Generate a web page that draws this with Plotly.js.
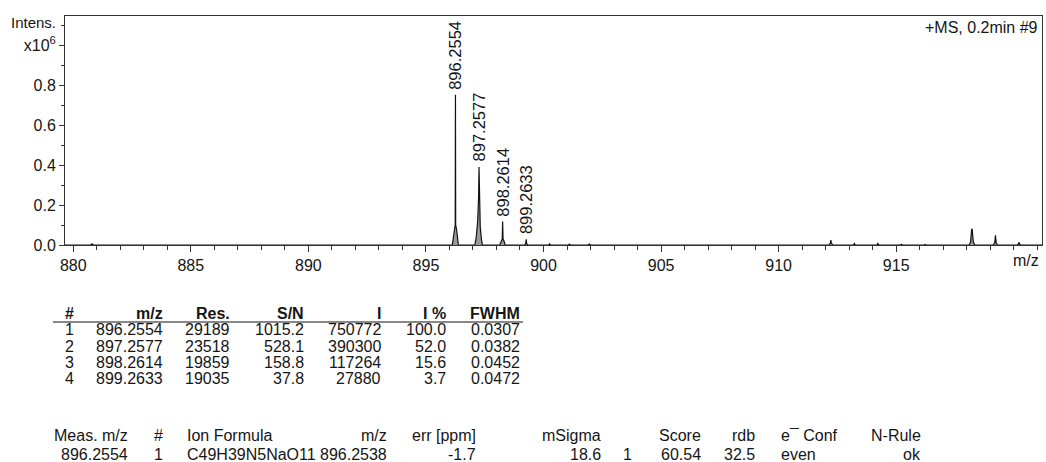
<!DOCTYPE html>
<html>
<head>
<meta charset="utf-8">
<script src="https://cdn.plot.ly/plotly-3.0.1.min.js"></script>
<style>
  html, body { margin: 0; padding: 0; background: #fff; }
  #chart { width: 1046px; height: 462px; }
</style>
</head>
<body>
<div id="chart"></div>
<script>
// ---------- DATA ----------
// profile spectrum (m/z, intensity in 10^6)
const specMz = [879.65, 880.75, 880.80, 880.85,
  896.12, 896.17, 896.21, 896.245, 896.2554, 896.265, 896.30, 896.34, 896.38,
  897.08, 897.14, 897.20, 897.24, 897.2577, 897.275, 897.31, 897.36, 897.40,
  898.14, 898.20, 898.245, 898.2614, 898.28, 898.32, 898.37,
  899.20, 899.245, 899.2633, 899.28, 899.33,
  900.22, 900.26, 900.30,
  901.05, 901.10, 901.15,
  901.90, 901.95, 902.00,
  912.14, 912.20, 912.22, 912.24, 912.30,
  913.18, 913.22, 913.26,
  914.18, 914.22, 914.26,
  915.18, 915.22, 915.26,
  916.18, 916.22, 916.26,
  918.10, 918.16, 918.21, 918.23, 918.28, 918.34,
  919.13, 919.19, 919.22, 919.25, 919.31,
  920.16, 920.22, 920.28,
  921.30];
const specInt = [0, 0, 0.006, 0,
  0, 0.04, 0.08, 0.10, 0.751, 0.10, 0.08, 0.04, 0,
  0, 0.04, 0.12, 0.24, 0.390, 0.22, 0.09, 0.03, 0,
  0, 0.02, 0.03, 0.117, 0.03, 0.02, 0,
  0, 0.008, 0.028, 0.008, 0,
  0, 0.006, 0,
  0, 0.004, 0,
  0, 0.005, 0,
  0, 0.01, 0.025, 0.01, 0,
  0, 0.008, 0,
  0, 0.008, 0,
  0, 0.004, 0,
  0, 0.003, 0,
  0, 0.015, 0.08, 0.078, 0.015, 0,
  0, 0.012, 0.048, 0.012, 0,
  0, 0.012, 0,
  0];

// peak list
const peakNo   = [1, 2, 3, 4];
const peakMz   = [896.2554, 897.2577, 898.2614, 899.2633];
const peakRes  = [29189, 23518, 19859, 19035];
const peakSN   = [1015.2, 528.1, 158.8, 37.8];
const peakI    = [750772, 390300, 117264, 27880];
const peakIpct = [100.0, 52.0, 15.6, 3.7];
const peakFWHM = [0.0307, 0.0382, 0.0452, 0.0472];
const peakHeaders = ['#', 'm/z', 'Res.', 'S/N', 'I', 'I %', 'FWHM'];

// formula result
const fmHeaders = ['Meas. m/z', '#', 'Ion Formula', 'm/z', 'err [ppm]', 'mSigma', '', 'Score', 'rdb', 'e\u00AF Conf', 'N-Rule'];
const fmValues  = ['896.2554', '1', 'C49H39N5NaO11', '896.2538', '-1.7', '18.6', '1', '60.54', '32.5', 'even', 'ok'];

// axis ticks
const xTickVals = [880, 885, 890, 895, 900, 905, 910, 915];
const xTickText = ['880', '885', '890', '895', '900', '905', '910', '915'];
const yTickVals = [0, 0.2, 0.4, 0.6, 0.8, 1.0];
const yTickText = ['0.0', '0.2', '0.4', '0.6', '0.8', 'x10<sup>6</sup>'];
const spectrumTitle = '+MS, 0.2min #9';

// ---------- LAYOUT ----------
const W = 1046, H = 462;
const L = 65, R = 1042, T = 16, B = 245;
const px = x => (x - L) / (R - L);
const py = y => (B - y) / (B - T);
const FONT = 'Liberation Sans, Arial, sans-serif';
const FS = 16;
const TXT = '#151515';

const ann = [];
// peak labels
peakMz.forEach((m, i) => {
  ann.push({x: m, y: peakI[i] / 1e6, xref: 'x', yref: 'y', text: m.toFixed(4),
    textangle: -90, showarrow: false, xanchor: 'center', yanchor: 'bottom', yshift: 3,
    font: {family: FONT, size: 16.5, color: TXT}});
});
// axis captions
ann.push({x: px(58), y: py(23), xref: 'paper', yref: 'paper', text: 'Intens.', showarrow: false,
  xanchor: 'right', yanchor: 'middle', font: {family: FONT, size: 15, color: TXT}});
ann.push({x: px(1041), y: py(260), xref: 'paper', yref: 'paper', text: 'm/z', showarrow: false,
  xanchor: 'right', yanchor: 'middle', font: {family: FONT, size: FS, color: TXT}});
ann.push({x: px(1040), y: py(27), xref: 'paper', yref: 'paper', text: spectrumTitle, showarrow: false,
  xanchor: 'right', yanchor: 'middle', font: {family: FONT, size: 16, color: TXT}});

// peak table
const ptCols = [ {x: 69, a: 'center'}, {x: 165, a: 'right'}, {x: 232, a: 'right'}, {x: 306, a: 'right'},
  {x: 383, a: 'right'}, {x: 448, a: 'right'}, {x: 522, a: 'right'} ];
const ptHeadY = 313, ptRowY = [330, 346, 362, 378];
peakHeaders.forEach((h, c) => {
  ann.push({x: px(ptCols[c].x), y: py(ptHeadY), xref: 'paper', yref: 'paper', text: '<b>' + h + '</b>',
    showarrow: false, xanchor: ptCols[c].a, yanchor: 'middle', font: {family: FONT, size: FS, color: TXT}});
});
peakNo.forEach((n, r) => {
  const row = [String(n), peakMz[r].toFixed(4), String(peakRes[r]), peakSN[r].toFixed(1),
    String(peakI[r]), peakIpct[r].toFixed(1), peakFWHM[r].toFixed(4)];
  row.forEach((t, c) => {
    ann.push({x: px(ptCols[c].x), y: py(ptRowY[r]), xref: 'paper', yref: 'paper', text: t,
      showarrow: false, xanchor: ptCols[c].a, yanchor: 'middle', font: {family: FONT, size: FS, color: TXT}});
  });
});

// formula table
const fmCols = [ {x: 130, a: 'right'}, {x: 158, a: 'center'}, {x: 185, a: 'left'}, {x: 389, a: 'right'},
  {x: 478, a: 'right'}, {x: 603, a: 'right'}, {x: 627, a: 'center'}, {x: 703, a: 'right'},
  {x: 757, a: 'right'}, {x: 779, a: 'left'}, {x: 923, a: 'right'} ];
const fmHeadY = 436, fmRowY = 454;
fmHeaders.forEach((h, c) => {
  if (h) {
    ann.push({x: px(fmCols[c].x), y: py(fmHeadY), xref: 'paper', yref: 'paper', text: h,
      showarrow: false, xanchor: fmCols[c].a, yanchor: 'middle', font: {family: FONT, size: FS, color: TXT}});
  }
  ann.push({x: px(fmCols[c].x), y: py(fmRowY), xref: 'paper', yref: 'paper', text: fmValues[c],
    showarrow: false, xanchor: fmCols[c].a, yanchor: 'middle', font: {family: FONT, size: FS, color: TXT}});
});

const shapes = [
  {type: 'line', xref: 'paper', yref: 'paper', x0: px(53), x1: px(523), y0: py(322), y1: py(322),
   line: {color: '#888', width: 2}}
];

const trace = {
  x: specMz, y: specInt, type: 'scatter', mode: 'lines',
  line: {color: '#111', width: 1.2}, fill: 'tozeroy', fillcolor: '#9a9a9a',
  hoverinfo: 'x+y', showlegend: false
};

const layout = {
  width: W, height: H,
  margin: {l: L, r: W - R, t: T, b: H - B, pad: 0},
  paper_bgcolor: '#fff', plot_bgcolor: '#fff',
  font: {family: FONT, size: FS, color: TXT},
  showlegend: false,
  xaxis: {
    range: [879.65, 921.2], tickmode: 'array', tickvals: xTickVals, ticktext: xTickText,
    ticks: 'outside', ticklen: 6, tickwidth: 1, tickcolor: '#333',
    showline: true, linecolor: '#333', linewidth: 1, mirror: true,
    showgrid: false, zeroline: false, tickfont: {family: FONT, size: FS, color: TXT},
    minor: {dtick: 1, tick0: 880, ticks: 'outside', ticklen: 4, tickcolor: '#333', showgrid: false}
  },
  yaxis: {
    range: [0, 1.145], tickmode: 'array', tickvals: yTickVals, ticktext: yTickText,
    ticks: 'outside', ticklen: 5, tickwidth: 1, tickcolor: '#333',
    showline: true, linecolor: '#333', linewidth: 1, mirror: true,
    showgrid: false, zeroline: false, tickfont: {family: FONT, size: FS, color: TXT},
    minor: {dtick: 0.1, tick0: 0, ticks: 'outside', ticklen: 3, tickcolor: '#333', showgrid: false}
  },
  annotations: ann,
  shapes: shapes
};

Plotly.newPlot('chart', [trace], layout, {staticPlot: true, displayModeBar: false});
</script>
</body>
</html>
